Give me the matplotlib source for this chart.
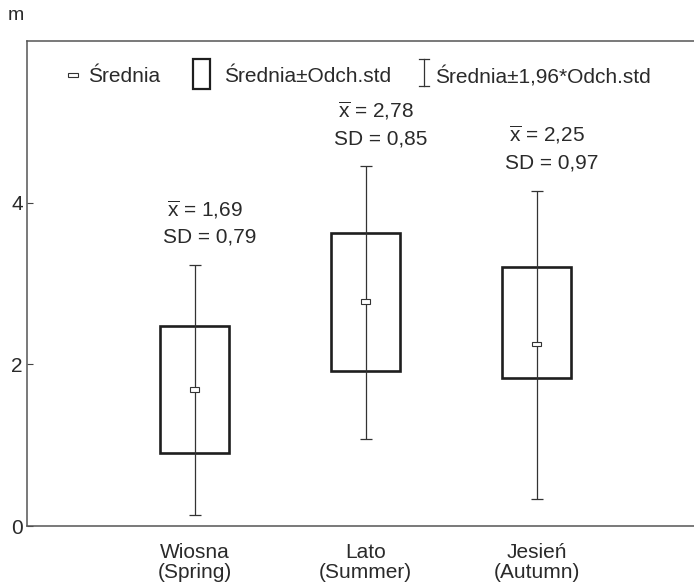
import matplotlib
matplotlib.use("Agg")
import matplotlib.pyplot as plt
from matplotlib.patches import Rectangle
from matplotlib.lines import Line2D

plt.rcParams['font.family'] = ['Liberation Sans', 'DejaVu Sans']
plt.rcParams['mathtext.fontset'] = 'custom'
plt.rcParams['mathtext.rm'] = 'Liberation Sans'
plt.rcParams['mathtext.it'] = 'Liberation Sans'

# ---- data ----
categories = ["Wiosna\n(Spring)", "Lato\n(Summer)", "Jesień\n(Autumn)"]
means = [1.69, 2.78, 2.25]
sds = [0.79, 0.85, 0.97]
box_low = [0.90, 1.92, 1.83]
box_high = [2.48, 3.63, 3.21]
whisk_low = [0.14, 1.08, 0.34]
whisk_high = [3.23, 4.45, 4.15]
yticks = [0, 2, 4]

TXT = '#2a2a2a'
FS = 15
W, H = 694, 585
L, R, T, B = 27, 694, 41, 526
fig = plt.figure(figsize=(W/100, H/100), dpi=100)
ax = fig.add_axes([L/W, (H-B)/H, (R-L)/W, (B-T)/H])

xs = [1, 2, 3]
box_w = 0.40
cap_w = 0.07
mk_w = 0.055
mk_h = 0.055
for x, m, bl, bh, wl, wh in zip(xs, means, box_low, box_high, whisk_low, whisk_high):
    ax.add_patch(Rectangle((x - box_w/2, bl), box_w, bh - bl, fill=False,
                           edgecolor='#1e1e1e', lw=1.9, zorder=2))
    ax.vlines(x, wl, wh, color='#333333', lw=0.9, zorder=3)
    ax.hlines([wl, wh], x - cap_w/2, x + cap_w/2, color='#333333', lw=0.9, zorder=3)
    ax.add_patch(Rectangle((x - mk_w/2, m - mk_h/2), mk_w, mk_h, facecolor='white',
                           edgecolor='#333333', lw=0.8, zorder=4))

for x, m, s, wh in zip(xs, means, sds, whisk_high):
    ax.annotate("$\\overline{\\mathrm{x}}$ = " + f"{m:.2f}".replace('.', ','),
                xy=(x, wh), xytext=(-20, 35), textcoords='offset points',
                ha='left', va='baseline', fontsize=FS, color=TXT)
    ax.annotate("SD = " + f"{s:.2f}".replace('.', ','),
                xy=(x, wh), xytext=(-22.5, 16), textcoords='offset points',
                ha='left', va='baseline', fontsize=FS, color=TXT)

ax.set_xlim(0.02, 3.92)
ax.set_ylim(0, 6)
ax.set_yticks(yticks)
ax.set_yticklabels([str(t) for t in yticks], fontsize=FS, color=TXT)
ax.tick_params(axis='y', direction='in', length=4, width=0.8, color='#444444', pad=3)
ax.set_xticks(xs)
ax.set_xticklabels(categories, fontsize=FS, color=TXT, linespacing=1.1)
ax.tick_params(axis='x', length=0, pad=12)
ax.spines['right'].set_visible(False)
for sp in ['left', 'top', 'bottom']:
    ax.spines[sp].set_color('#555555')
    ax.spines[sp].set_linewidth(1.1)

fig.text(8/W, 1 - 15/H, "m", fontsize=FS - 1, color=TXT, ha='left', va='center')

# ---- legend (drawn manually in axes coordinates) ----
def ax_xy(px, py):
    return ((px - L) / (R - L), (B - py) / (B - T))

ly = 76.5
x0, y0 = ax_xy(68, 77)
x1, y1 = ax_xy(78, 73)
ax.add_patch(Rectangle((x0, y0), x1 - x0, y1 - y0, transform=ax.transAxes,
                       facecolor='white', edgecolor='#333333', lw=0.8, clip_on=False))
tx, ty = ax_xy(88, ly)
ax.text(tx, ty, "Średnia", transform=ax.transAxes, fontsize=FS, color=TXT, va='center')
x0, y0 = ax_xy(193, 89)
x1, y1 = ax_xy(210, 59)
ax.add_patch(Rectangle((x0, y0), x1 - x0, y1 - y0, transform=ax.transAxes,
                       fill=False, edgecolor='#1e1e1e', lw=1.6, clip_on=False))
tx, ty = ax_xy(224, ly)
ax.text(tx, ty, "Średnia±Odch.std", transform=ax.transAxes, fontsize=FS, color=TXT, va='center')
cx, yt = ax_xy(424, 59)
_, yb = ax_xy(424, 86)
cl, _ = ax_xy(419, 0)
cr, _ = ax_xy(429, 0)
ax.add_line(Line2D([cx, cx], [yb, yt], transform=ax.transAxes, color='#333333', lw=0.9))
ax.add_line(Line2D([cl, cr], [yt, yt], transform=ax.transAxes, color='#333333', lw=0.9))
ax.add_line(Line2D([cl, cr], [yb, yb], transform=ax.transAxes, color='#333333', lw=0.9))
tx, ty = ax_xy(435, ly)
ax.text(tx, ty, "Średnia±1,96*Odch.std", transform=ax.transAxes, fontsize=FS, color=TXT, va='center')

fig.savefig("out.png", dpi=100, facecolor='white')
